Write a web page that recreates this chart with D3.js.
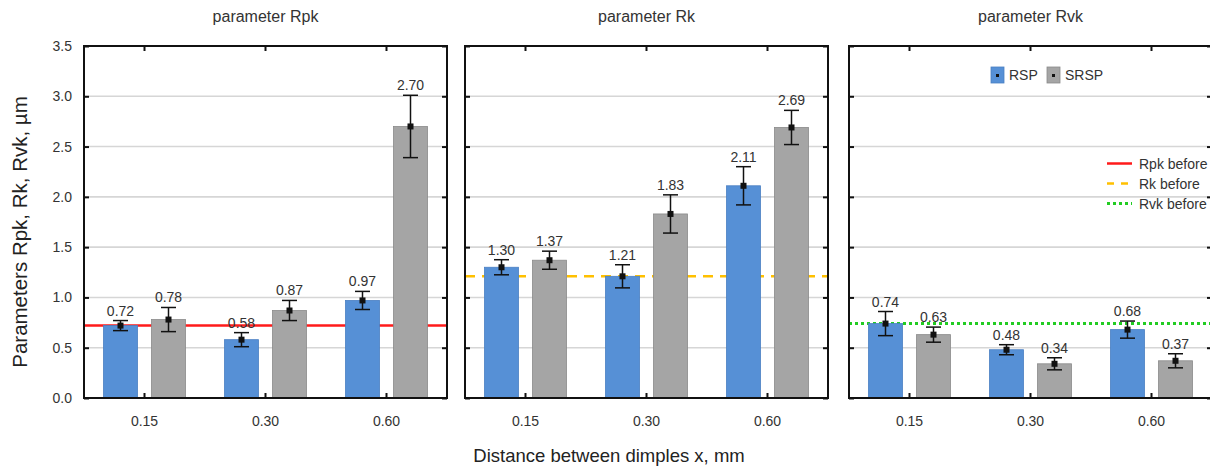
<!DOCTYPE html>
<html>
<head>
<meta charset="utf-8">
<script src="https://cdn.jsdelivr.net/npm/d3@7"></script>
<style>
  html, body { margin: 0; padding: 0; background: #fff; }
  svg { display: block; font-family: Arial, "Liberation Sans", sans-serif; }
</style>
</head>
<body>
<svg id="chart" width="1210" height="468"></svg>
<script>
// Distance between dimples (mm)
const categories = ["0.15", "0.30", "0.60"];
const seriesNames = ["RSP", "SRSP"];
const yTicks = [0, 0.5, 1.0, 1.5, 2.0, 2.5, 3.0, 3.5];

// Rpk
const rpkRSP = [0.72, 0.58, 0.97];
const rpkRSPErr = [0.05, 0.07, 0.09];
const rpkSRSP = [0.78, 0.87, 2.70];
const rpkSRSPErr = [0.12, 0.10, 0.31];
// Rk
const rkRSP = [1.30, 1.21, 2.11];
const rkRSPErr = [0.075, 0.115, 0.19];
const rkSRSP = [1.37, 1.83, 2.69];
const rkSRSPErr = [0.09, 0.19, 0.17];
// Rvk
const rvkRSP = [0.74, 0.48, 0.68];
const rvkRSPErr = [0.12, 0.05, 0.085];
const rvkSRSP = [0.63, 0.34, 0.37];
const rvkSRSPErr = [0.075, 0.06, 0.07];

// Values before treatment
const panelTitles = ["parameter Rpk", "parameter Rk", "parameter Rvk"];
const beforeLabels = ["Rpk before", "Rk before", "Rvk before"];
const beforeValues = [0.72, 1.21, 0.74];

const panels = [
  { title: panelTitles[0], rsp: rpkRSP, rspErr: rpkRSPErr, srsp: rpkSRSP, srspErr: rpkSRSPErr, before: beforeValues[0], line: 0 },
  { title: panelTitles[1], rsp: rkRSP, rspErr: rkRSPErr, srsp: rkSRSP, srspErr: rkSRSPErr, before: beforeValues[1], line: 1 },
  { title: panelTitles[2], rsp: rvkRSP, rspErr: rvkRSPErr, srsp: rvkSRSP, srspErr: rvkSRSPErr, before: beforeValues[2], line: 2 }
];

const barColors = { RSP: "#5690d6", SRSP: "#a5a5a5" };
const barStroke = { RSP: "#4a7fc2", SRSP: "#8a8a8a" };
const lineStyles = [
  { color: "#ff1a1a", dash: null, width: 2.5 },
  { color: "#ffc000", dash: "10,7", width: 2.5 },
  { color: "#22cc22", dash: "3,3", width: 3 }
];

const svg = d3.select("#chart");
const panelLefts = [84, 465, 849];
const panelW = 363;
const plotTop = 46, plotBottom = 398;
const fmt = d3.format(".2f");

const y = d3.scaleLinear().domain([0, 3.5]).range([plotBottom, plotTop]);

panels.forEach((p, pi) => {
  const left = panelLefts[pi];
  const g = svg.append("g");
  const x = d3.scaleBand().domain(categories).range([left, left + panelW]);
  const xs = d3.scaleBand().domain(seriesNames).range([-41, 41]).paddingInner(0.2917);
  const cx = c => x(c) + x.bandwidth() / 2;

  // title
  g.append("text").attr("x", left + panelW / 2).attr("y", 22)
    .attr("text-anchor", "middle").attr("font-size", 16).attr("fill", "#333")
    .text(p.title);

  // clip everything to the frame
  const clipId = "clip" + pi;
  svg.append("clipPath").attr("id", clipId).append("rect")
    .attr("x", left).attr("y", plotTop).attr("width", panelW).attr("height", plotBottom - plotTop);
  const inner = g.append("g").attr("clip-path", `url(#${clipId})`);

  // gridlines
  inner.selectAll("line.grid").data(yTicks.filter(t => t > 0 && t < 3.5)).join("line")
    .attr("x1", left).attr("x2", left + panelW)
    .attr("y1", d => y(d)).attr("y2", d => y(d))
    .attr("stroke", "#d6d6d6").attr("stroke-width", 1.6);

  // "before" reference line
  const ls = lineStyles[p.line];
  inner.append("line")
    .attr("x1", left).attr("x2", left + panelW)
    .attr("y1", y(p.before)).attr("y2", y(p.before))
    .attr("stroke", ls.color).attr("stroke-width", ls.width)
    .attr("stroke-dasharray", ls.dash);

  const rows = [];
  categories.forEach((c, i) => {
    rows.push({ cat: c, s: "RSP", v: p.rsp[i], e: p.rspErr[i] });
    rows.push({ cat: c, s: "SRSP", v: p.srsp[i], e: p.srspErr[i] });
  });
  const bx = d => cx(d.cat) + xs(d.s);
  const mx = d => bx(d) + xs.bandwidth() / 2;

  // bars
  inner.selectAll("rect.bar").data(rows).join("rect")
    .attr("x", bx).attr("width", xs.bandwidth())
    .attr("y", d => y(d.v)).attr("height", d => y(0) - y(d.v))
    .attr("fill", d => barColors[d.s]).attr("stroke", d => barStroke[d.s]).attr("stroke-width", 0.8);

  // error bars
  const eb = inner.selectAll("g.err").data(rows).join("g");
  eb.append("line").attr("x1", mx).attr("x2", mx)
    .attr("y1", d => y(d.v + d.e)).attr("y2", d => y(d.v - d.e))
    .attr("stroke", "#111").attr("stroke-width", 1.5);
  [1, -1].forEach(sg => {
    eb.append("line").attr("x1", d => mx(d) - 7.5).attr("x2", d => mx(d) + 7.5)
      .attr("y1", d => y(d.v + sg * d.e)).attr("y2", d => y(d.v + sg * d.e))
      .attr("stroke", "#111").attr("stroke-width", 1.5);
  });
  eb.append("rect").attr("x", d => mx(d) - 3).attr("y", d => y(d.v) - 3)
    .attr("width", 6).attr("height", 6).attr("fill", "#111");

  // value labels
  inner.selectAll("text.val").data(rows).join("text")
    .attr("x", mx).attr("y", d => y(d.v + d.e) - 5)
    .attr("text-anchor", "middle").attr("font-size", 14).attr("fill", "#333")
    .text(d => fmt(d.v));

  // frame
  g.append("rect").attr("x", left).attr("y", plotTop).attr("width", panelW).attr("height", plotBottom - plotTop)
    .attr("fill", "none").attr("stroke", "#111").attr("stroke-width", 2);

  // inward ticks on all four sides
  const yAxisL = d3.axisLeft(y).tickValues(yTicks).tickSizeInner(-5).tickSizeOuter(0).tickPadding(12)
    .tickFormat(pi === 0 ? d3.format(".1f") : () => "");
  const yAxisR = d3.axisRight(y).tickValues(yTicks).tickSizeInner(-5).tickSizeOuter(0).tickFormat(() => "");
  const xAxisB = d3.axisBottom(x).tickSizeInner(-5).tickSizeOuter(0).tickPadding(18);
  const xAxisT = d3.axisTop(x).tickSizeInner(-5).tickSizeOuter(0).tickFormat(() => "");

  const axes = [
    g.append("g").attr("transform", `translate(${left},0)`).call(yAxisL),
    g.append("g").attr("transform", `translate(${left + panelW},0)`).call(yAxisR),
    g.append("g").attr("transform", `translate(0,${plotBottom})`).call(xAxisB),
    g.append("g").attr("transform", `translate(0,${plotTop})`).call(xAxisT)
  ];
  axes.forEach(a => {
    a.select(".domain").remove();
    a.selectAll(".tick line").attr("stroke", "#111").attr("stroke-width", 2);
    a.selectAll(".tick text").attr("font-size", 14).attr("fill", "#333")
      .attr("font-family", "Arial, 'Liberation Sans', sans-serif");
  });

  // legends in the last panel
  if (pi === 2) {
    const lg = g.append("g");
    const sw = [{ s: "RSP", x: 991 }, { s: "SRSP", x: 1047 }];
    sw.forEach(d => {
      lg.append("rect").attr("x", d.x).attr("y", 67).attr("width", 13).attr("height", 16)
        .attr("fill", barColors[d.s]).attr("stroke", barStroke[d.s]).attr("stroke-width", 0.8);
      lg.append("rect").attr("x", d.x + 5).attr("y", 74).attr("width", 3).attr("height", 3).attr("fill", "#111");
      lg.append("text").attr("x", d.x + 18).attr("y", 80).attr("font-size", 14).attr("fill", "#333").text(d.s);
    });
    beforeLabels.forEach((lab, i) => {
      const ly = 163.5 + i * 20;
      const st = lineStyles[i];
      lg.append("line").attr("x1", 1107).attr("x2", 1132).attr("y1", ly).attr("y2", ly)
        .attr("stroke", st.color).attr("stroke-width", st.width)
        .attr("stroke-dasharray", i === 1 ? "7,7" : st.dash);
      lg.append("text").attr("x", 1139).attr("y", ly + 5).attr("font-size", 14).attr("fill", "#333").text(lab);
    });
  }
});

// axis titles
svg.append("text").attr("transform", "translate(27,232) rotate(-90)")
  .attr("text-anchor", "middle").attr("font-size", 20.5).attr("fill", "#222")
  .text("Parameters Rpk, Rk, Rvk, µm");
svg.append("text").attr("x", 609).attr("y", 462)
  .attr("text-anchor", "middle").attr("font-size", 18.5).attr("fill", "#222")
  .text("Distance between dimples x, mm");
</script>
</body>
</html>
